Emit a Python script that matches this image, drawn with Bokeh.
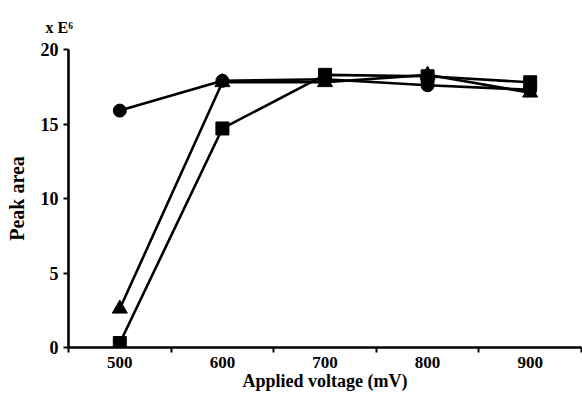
from bokeh.plotting import figure
from bokeh.models import FixedTicker, Range1d, Title
from bokeh.embed import file_html
from bokeh.resources import INLINE

voltages = [500, 600, 700, 800, 900]
x_labels = ["500", "600", "700", "800", "900"]
circle_vals = [15.9, 17.9, 18.0, 17.6, 17.3]
triangle_vals = [2.6, 17.8, 17.8, 18.3, 17.1]
square_vals = [0.3, 14.7, 18.3, 18.2, 17.8]
y_ticks = [0, 5, 10, 15, 20]

FONT = "Liberation Serif"

p = figure(width=582, height=398, output_backend="svg", toolbar_location=None,
           x_range=Range1d(450, 950), y_range=Range1d(0, 20),
           min_border_left=68, min_border_top=49, min_border_right=1, min_border_bottom=51)
p.outline_line_color = None
p.grid.grid_line_color = None

for vals in (circle_vals, triangle_vals, square_vals):
    p.line(voltages, vals, line_color="black", line_width=2.6)
p.scatter(voltages, circle_vals, marker="circle", size=13, color="black")
p.scatter(voltages, triangle_vals, marker="triangle", size=15, color="black")
p.scatter(voltages, square_vals, marker="square", size=13, color="black")

xa = p.xaxis[0]
xa.ticker = FixedTicker(ticks=voltages, minor_ticks=[450, 550, 650, 750, 850, 950])
xa.major_label_overrides = {v: s for v, s in zip(voltages, x_labels)}
xa.major_tick_out = 0
xa.major_tick_in = 0
xa.minor_tick_out = 5
xa.minor_tick_in = 0
xa.minor_tick_line_width = 2
xa.axis_label = "Applied voltage (mV)"

ya = p.yaxis[0]
ya.ticker = FixedTicker(ticks=y_ticks)
ya.major_tick_out = 5
ya.major_tick_in = 0
ya.minor_tick_out = 0
ya.minor_tick_in = 0
ya.major_tick_line_width = 2
ya.axis_label = "Peak area"

for ax in (xa, ya):
    ax.axis_line_width = 2.6
    ax.axis_line_color = "black"
    ax.major_label_text_font = FONT
    ax.major_label_text_font_style = "bold"
    ax.major_label_text_color = "black"
    ax.axis_label_text_font = FONT
    ax.axis_label_text_font_style = "bold"
    ax.axis_label_text_color = "black"

xa.major_label_text_font_size = "17px"
ya.major_label_text_font_size = "18px"
xa.axis_label_text_font_size = "18px"
ya.axis_label_text_font_size = "20px"

xa.major_label_standoff = 4
xa.axis_label_standoff = 0
ya.major_label_standoff = 5
ya.axis_label_standoff = 10

p.add_layout(Title(text="x E\u2076", align="left", offset=-23, standoff=27,
                   text_font=FONT, text_font_style="bold", text_font_size="16px",
                   text_color="black"), "above")

open("out.html", "w").write(file_html(p, INLINE))
